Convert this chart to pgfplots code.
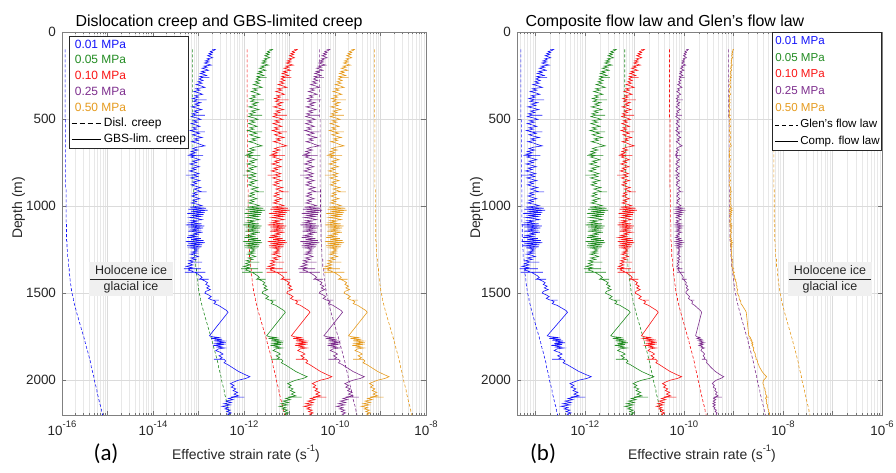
\documentclass[border=0pt]{standalone}
\usepackage{pgfplots}
\pgfplotsset{compat=1.18}
\usepackage{pgfplotstable}
\usepackage{fontspec}
\setmainfont{Liberation Sans}
\newfontfamily\calibri{Carlito}
\definecolor{cblue}{RGB}{20,20,250}
\definecolor{cgreen}{RGB}{34,140,34}
\definecolor{cred}{RGB}{250,20,20}
\definecolor{cpurple}{RGB}{126,47,142}
\definecolor{corange}{RGB}{230,155,30}
\definecolor{tickc}{RGB}{38,38,38}
\newcommand\pw[1]{10\raisebox{0.62em}{\fontsize{9.5}{10}\selectfont #1}}
\tikzset{dsh/.style={dash pattern=on 3bp off 2bp}}

% d = depth (m); g = log10 of GBS-limited strain rate at 0.01 MPa; t = log10 temperature factor of dislocation creep
\pgfplotstableread{
d g t
100 -12.70 0
100 -12.63 0
106 -12.66 0
112 -12.74 0
118 -12.69 0
124 -12.77 0
130 -12.71 0
136 -12.80 0
142 -12.74 0
148 -12.69 0
154 -12.81 0
160 -12.76 0
166 -12.85 0
172 -12.77 0
178 -12.87 0
184 -12.80 0
190 -12.72 0
196 -12.88 0
202 -12.81 0
208 -12.92 0
214 -12.84 0
220 -12.78 0
226 -12.93 0
232 -12.86 0
238 -12.96 0
244 -12.88 0
250 -12.82 0
256 -12.97 0
262 -12.90 0
262 -12.76 0
262 -12.92 0
270 -12.99 0
278 -12.90 0
286 -13.01 0
294 -12.92 0
302 -13.05 0
310 -12.94 0
318 -12.86 0
326 -13.06 0
334 -12.97 0
342 -13.10 0
350 -12.99 0
358 -12.91 0
366 -13.08 0
374 -13.00 0
382 -13.13 0
390 -13.01 0
390 -12.82 0
390 -13.03 0
398 -13.11 0
406 -12.95 0
414 -13.08 0
422 -12.99 0
430 -13.15 0
438 -13.03 0
446 -12.93 0
454 -13.10 0
462 -13.01 0
470 -13.14 0
478 -13.04 0
478 -12.86 0
478 -13.07 0
486 -13.16 0
494 -13.03 0
502 -12.95 0.01
510 -13.12 0.01
518 -13.02 0.01
526 -13.16 0.01
534 -13.06 0.01
542 -12.97 0.01
550 -13.13 0.01
558 -13.04 0.01
566 -13.18 0.01
574 -13.06 0.01
574 -12.86 0.01
574 -13.08 0.01
582 -12.98 0.01
590 -13.13 0.01
598 -13.04 0.01
606 -12.92 0.01
614 -13.09 0.01
622 -13.00 0.01
630 -13.15 0.01
638 -13.03 0.01
646 -12.96 0.01
654 -12.86 0.01
662 -13.04 0.01
670 -13.13 0.01
678 -13.01 0.01
686 -13.16 0.01
694 -13.06 0.01
702 -13.19 0.01
710 -13.06 0.01
710 -13.24 0.01
710 -12.90 0.01
710 -13.07 0.01
718 -13.17 0.01
726 -13.06 0.01
734 -12.97 0.01
742 -13.13 0.01
750 -13.04 0.01
758 -13.19 0.01
766 -13.07 0.01
774 -12.98 0.01
782 -13.15 0.01
790 -13.06 0.01
798 -13.20 0.01
806 -13.08 0.01
814 -12.99 0.01
822 -13.16 0.01
822 -13.28 0.01
822 -13.10 0.01
830 -13.01 0.01
838 -13.17 0.01
846 -13.07 0.01
854 -12.97 0.01
862 -13.13 0.01
870 -13.04 0.01
878 -13.16 0.01
886 -13.06 0.01
894 -12.95 0.01
902 -13.10 0.02
910 -13.01 0.02
918 -12.93 0.02
918 -12.82 0.02
918 -13.01 0.02
926 -13.12 0.02
934 -13.03 0.02
942 -13.15 0.02
950 -13.06 0.02
958 -12.97 0.02
966 -13.13 0.02
974 -13.04 0.02
982 -13.16 0.02
990 -13.01 0.02
998 -12.92 0.02
1006 -13.19 0.02
1012 -12.83 0.02
1018 -13.22 0.02
1024 -12.80 0.02
1030 -13.16 0.02
1036 -12.86 0.02
1042 -13.25 0.02
1048 -12.89 0.02
1054 -13.13 0.02
1060 -12.95 0.02
1066 -13.19 0.02
1072 -13.01 0.02
1078 -12.92 0.02
1084 -13.16 0.02
1090 -13.04 0.02
1096 -13.20 0.02
1102 -12.93 0.03
1108 -13.28 0.03
1114 -12.87 0.03
1120 -13.22 0.03
1126 -12.90 0.03
1132 -13.16 0.03
1138 -12.98 0.03
1144 -13.23 0.03
1150 -12.91 0.03
1156 -13.10 0.03
1162 -13.01 0.03
1168 -13.19 0.03
1174 -13.04 0.03
1180 -13.25 0.03
1186 -12.95 0.03
1192 -13.16 0.03
1198 -12.89 0.03
1204 -13.28 0.04
1210 -12.86 0.04
1216 -13.22 0.04
1222 -12.92 0.04
1228 -13.25 0.04
1234 -12.93 0.04
1240 -13.19 0.04
1246 -13.01 0.04
1252 -13.09 0.05
1258 -13.02 0.05
1264 -13.15 0.05
1270 -13.03 0.05
1276 -13.18 0.05
1282 -13.08 0.05
1290 -13.00 0.05
1298 -13.17 0.05
1306 -13.06 0.07
1314 -13.21 0.07
1322 -13.09 0.07
1322 -12.92 0.07
1322 -13.12 0.07
1330 -13.22 0.07
1338 -13.12 0.07
1346 -13.27 0.07
1354 -13.14 0.09
1360 -13.25 0.09
1360 -13.32 0.09
1360 -12.95 0.09
1360 -13.18 0.09
1368 -13.22 0.09
1374 -13.12 0.09
1380 -13.15 0.09
1380 -13.30 0.09
1380 -12.85 0.09
1380 -13.08 0.09
1390 -13.02 0.09
1400 -12.96 0.10
1410 -12.92 0.10
1420 -12.98 0.11
1420 -12.78 0.11
1420 -12.94 0.11
1430 -12.86 0.11
1440 -12.80 0.12
1450 -12.84 0.12
1460 -12.76 0.13
1470 -12.82 0.13
1480 -12.74 0.14
1490 -12.84 0.14
1500 -12.86 0.15
1510 -12.78 0.16
1520 -12.72 0.17
1530 -12.78 0.18
1540 -12.70 0.18
1540 -12.55 0.18
1540 -12.68 0.18
1550 -12.62 0.19
1560 -12.66 0.20
1570 -12.56 0.21
1580 -12.50 0.22
1590 -12.44 0.23
1600 -12.38 0.24
1610 -12.35 0.25
1745 -12.76 0.40
1750 -12.70 0.41
1755 -12.55 0.41
1760 -12.72 0.42
1765 -12.48 0.42
1770 -12.66 0.43
1775 -12.44 0.43
1780 -12.60 0.44
1785 -12.40 0.44
1790 -12.62 0.45
1795 -12.46 0.45
1800 -12.68 0.46
1805 -12.50 0.46
1810 -12.58 0.47
1815 -12.42 0.47
1820 -12.56 0.48
1830 -12.62 0.49
1840 -12.52 0.50
1850 -12.46 0.51
1860 -12.55 0.52
1870 -12.48 0.53
1880 -12.54 0.54
1880 -12.66 0.54
1880 -12.44 0.54
1890 -12.40 0.55
1900 -12.44 0.56
1910 -12.36 0.57
1920 -12.30 0.57
1930 -12.24 0.58
1940 -12.18 0.59
1950 -12.12 0.60
1960 -12.04 0.61
1970 -11.96 0.62
1980 -11.87 0.63
1990 -11.96 0.63
2000 -12.12 0.64
2010 -12.22 0.65
2020 -12.30 0.66
2030 -12.22 0.67
2040 -12.28 0.68
2050 -12.18 0.69
2060 -12.24 0.70
2070 -12.14 0.70
2080 -12.22 0.71
2090 -12.12 0.72
2097 -12.28 0.73
2097 -11.99 0.73
2097 -12.20 0.73
2105 -12.34 0.73
2112 -12.24 0.74
2120 -12.40 0.75
2128 -12.28 0.75
2135 -12.44 0.76
2142 -12.30 0.77
2150 -12.48 0.78
2158 -12.34 0.78
2165 -12.42 0.79
2172 -12.30 0.80
2180 -12.38 0.80
2188 -12.28 0.81
2195 -12.36 0.82
2200 -12.32 0.82
}\prof

\begin{document}
\begin{tikzpicture}
\useasboundingbox (0,0) rectangle (896bp,473bp);

% ---------------- panel (a) ----------------
\begin{axis}[at={(62bp,58bp)}, anchor=south west, width=364bp, height=383bp, scale only axis,
  xmode=log, y dir=reverse, ymin=0, ymax=2200,
  ytick={0,500,1000,1500,2000},
  grid=both,
  major grid style={draw=black!14, line width=0.45bp},
  minor grid style={draw=black!9, line width=0.45bp},
  axis line style={draw=black!50, line width=0.6bp},
  tick style={draw=black!55, line width=0.5bp},
  major tick length=4.5bp, minor tick length=2.5bp,
  tick align=inside, xtick pos=both, ytick pos=both,
  ticklabel style={font=\fontsize{13.5}{15}\selectfont, text=tickc},
  yticklabel style={/pgf/number format/1000 sep={}, /pgf/number format/assume math mode=true, xshift=-2.5bp},
  xticklabel style={yshift=-2bp},
  legend cell align=left,
  xmin=1e-16, xmax=1e-8,
  xtick={1e-16,1e-15,1e-14,1e-13,1e-12,1e-11,1e-10,1e-9,1e-8},
  xticklabels={\pw{-16},,\pw{-14},,\pw{-12},,\pw{-10},,\pw{-8}},
  minor xtick={2e-16,3e-16,4e-16,5e-16,6e-16,7e-16,8e-16,9e-16,
    2e-15,3e-15,4e-15,5e-15,6e-15,7e-15,8e-15,9e-15,
    2e-14,3e-14,4e-14,5e-14,6e-14,7e-14,8e-14,9e-14,
    2e-13,3e-13,4e-13,5e-13,6e-13,7e-13,8e-13,9e-13,
    2e-12,3e-12,4e-12,5e-12,6e-12,7e-12,8e-12,9e-12,
    2e-11,3e-11,4e-11,5e-11,6e-11,7e-11,8e-11,9e-11,
    2e-10,3e-10,4e-10,5e-10,6e-10,7e-10,8e-10,9e-10,
    2e-9,3e-9,4e-9,5e-9,6e-9,7e-9,8e-9,9e-9},
  legend image code/.code={\draw[#1] (0bp,0bp) -- (29bp,0bp);},
  legend style={at={(axis description cs:0.0192,0.9896)}, anchor=north west,
    draw=black!85, line width=0.6bp, fill=white, inner xsep=2bp, inner ysep=3bp,
    font=\fontsize{12}{14}\selectfont, row sep=3.7bp,
    nodes={inner sep=0bp, text height=9bp, text depth=3bp},
    /tikz/every odd column/.append style={column sep=3bp}},
]
\addplot[forget plot, line width=0.6bp, cblue,dsh]   table[x expr={10^(\thisrow{t}-15.93)}, y=d] {\prof};
\addplot[forget plot, line width=0.6bp, cgreen,dsh]  table[x expr={10^(\thisrow{t}-13.134)}, y=d] {\prof};
\addplot[forget plot, line width=0.6bp, cred,dsh]    table[x expr={10^(\thisrow{t}-11.93)}, y=d] {\prof};
\addplot[forget plot, line width=0.6bp, cpurple,dsh] table[x expr={10^(\thisrow{t}-10.338)}, y=d] {\prof};
\addplot[forget plot, line width=0.6bp, corange,dsh] table[x expr={10^(\thisrow{t}-9.134)}, y=d] {\prof};
\addplot[forget plot, line width=0.6bp, cblue]   table[x expr={10^(\thisrow{g})}, y=d] {\prof};
\addplot[forget plot, line width=0.6bp, cgreen]  table[x expr={10^(\thisrow{g}+1.258)}, y=d] {\prof};
\addplot[forget plot, line width=0.6bp, cred]    table[x expr={10^(\thisrow{g}+1.8)}, y=d] {\prof};
\addplot[forget plot, line width=0.6bp, cpurple] table[x expr={10^(\thisrow{g}+2.516)}, y=d] {\prof};
\addplot[forget plot, line width=0.6bp, corange] table[x expr={10^(\thisrow{g}+3.058)}, y=d] {\prof};
\addlegendimage{empty legend}\addlegendentry{\hspace*{-29bp}\textcolor{cblue}{0.01 MPa}}
\addlegendimage{empty legend}\addlegendentry{\hspace*{-29bp}\textcolor{cgreen}{0.05 MPa}}
\addlegendimage{empty legend}\addlegendentry{\hspace*{-29bp}\textcolor{cred}{0.10 MPa}}
\addlegendimage{empty legend}\addlegendentry{\hspace*{-29bp}\textcolor{cpurple}{0.25 MPa}}
\addlegendimage{empty legend}\addlegendentry{\hspace*{-29bp}\textcolor{corange}{0.50 MPa}}
\addlegendimage{black, line width=0.6bp, dash pattern=on 5bp off 3bp}\addlegendentry{Disl. creep}
\addlegendimage{black, line width=0.6bp}\addlegendentry{GBS-lim. creep}
\node[fill=black!6, inner sep=1bp, font=\fontsize{12.5}{16}\selectfont, text=tickc] at (axis cs:3.3e-15,1420)
  {\setlength{\tabcolsep}{5bp}\begin{tabular}{c}Holocene ice\\\hline glacial ice\end{tabular}};
\end{axis}

% ---------------- panel (b) ----------------
\begin{axis}[at={(517bp,58bp)}, anchor=south west, width=365bp, height=383bp, scale only axis,
  xmode=log, y dir=reverse, ymin=0, ymax=2200,
  ytick={0,500,1000,1500,2000},
  grid=both,
  major grid style={draw=black!14, line width=0.45bp},
  minor grid style={draw=black!9, line width=0.45bp},
  axis line style={draw=black!50, line width=0.6bp},
  tick style={draw=black!55, line width=0.5bp},
  major tick length=4.5bp, minor tick length=2.5bp,
  tick align=inside, xtick pos=both, ytick pos=both,
  ticklabel style={font=\fontsize{13.5}{15}\selectfont, text=tickc},
  yticklabel style={/pgf/number format/1000 sep={}, /pgf/number format/assume math mode=true, xshift=-2.5bp},
  xticklabel style={yshift=-2bp},
  legend cell align=left,
  xmin=4.27e-14, xmax=1e-6,
  xtick={1e-13,1e-12,1e-11,1e-10,1e-9,1e-8,1e-7,1e-6},
  xticklabels={,\pw{-12},,\pw{-10},,\pw{-8},,\pw{-6}},
  minor xtick={5e-14,6e-14,7e-14,8e-14,9e-14,
    2e-13,3e-13,4e-13,5e-13,6e-13,7e-13,8e-13,9e-13,
    2e-12,3e-12,4e-12,5e-12,6e-12,7e-12,8e-12,9e-12,
    2e-11,3e-11,4e-11,5e-11,6e-11,7e-11,8e-11,9e-11,
    2e-10,3e-10,4e-10,5e-10,6e-10,7e-10,8e-10,9e-10,
    2e-9,3e-9,4e-9,5e-9,6e-9,7e-9,8e-9,9e-9,
    2e-8,3e-8,4e-8,5e-8,6e-8,7e-8,8e-8,9e-8,
    2e-7,3e-7,4e-7,5e-7,6e-7,7e-7,8e-7,9e-7},
  legend image code/.code={\draw[#1] (0bp,0bp) -- (23bp,0bp);},
  legend style={at={(axis description cs:1,1)}, anchor=north east,
    draw=black!85, line width=0.6bp, fill=white, inner xsep=2bp, inner ysep=3bp,
    font=\fontsize{11.6}{14}\selectfont, row sep=4.7bp,
    nodes={inner sep=0bp, text height=9bp, text depth=3bp},
    /tikz/every odd column/.append style={column sep=2bp}},
]
\addplot[forget plot, line width=0.6bp, cblue,dsh]   table[x expr={10^(0.9*\thisrow{t}-13.29)}, y=d] {\prof};
\addplot[forget plot, line width=0.6bp, cgreen,dsh]  table[x expr={10^(0.9*\thisrow{t}-11.193)}, y=d] {\prof};
\addplot[forget plot, line width=0.6bp, cred,dsh]    table[x expr={10^(0.9*\thisrow{t}-10.29)}, y=d] {\prof};
\addplot[forget plot, line width=0.6bp, cpurple,dsh] table[x expr={10^(0.9*\thisrow{t}-9.096)}, y=d] {\prof};
\addplot[forget plot, line width=0.6bp, corange,dsh] table[x expr={10^(0.9*\thisrow{t}-8.193)}, y=d] {\prof};
\addplot[forget plot, line width=0.6bp, cblue]   table[x expr={10^(\thisrow{g})+10^(\thisrow{t}-15.93)}, y=d] {\prof};
\addplot[forget plot, line width=0.6bp, cgreen]  table[x expr={10^(\thisrow{g}+1.258)+10^(\thisrow{t}-13.134)}, y=d] {\prof};
\addplot[forget plot, line width=0.6bp, cred]    table[x expr={10^(\thisrow{g}+1.8)+10^(\thisrow{t}-11.93)}, y=d] {\prof};
\addplot[forget plot, line width=0.6bp, cpurple] table[x expr={10^(\thisrow{g}+2.516)+10^(\thisrow{t}-10.338)}, y=d] {\prof};
\addplot[forget plot, line width=0.6bp, corange] table[x expr={10^(\thisrow{g}+3.058)+10^(\thisrow{t}-9.134)}, y=d] {\prof};
\addlegendimage{empty legend}\addlegendentry{\hspace*{-25bp}\textcolor{cblue}{0.01 MPa}}
\addlegendimage{empty legend}\addlegendentry{\hspace*{-25bp}\textcolor{cgreen}{0.05 MPa}}
\addlegendimage{empty legend}\addlegendentry{\hspace*{-25bp}\textcolor{cred}{0.10 MPa}}
\addlegendimage{empty legend}\addlegendentry{\hspace*{-25bp}\textcolor{cpurple}{0.25 MPa}}
\addlegendimage{empty legend}\addlegendentry{\hspace*{-25bp}\textcolor{corange}{0.50 MPa}}
\addlegendimage{black, line width=0.6bp, dash pattern=on 4bp off 3bp}\addlegendentry{Glen's flow law}
\addlegendimage{black, line width=0.6bp}\addlegendentry{Comp. flow law}
\node[fill=black!6, inner sep=1bp, font=\fontsize{12.5}{16}\selectfont, text=tickc] at (axis cs:8.9e-8,1420)
  {\setlength{\tabcolsep}{5bp}\begin{tabular}{c}Holocene ice\\\hline glacial ice\end{tabular}};
\end{axis}

% titles and labels
\node[anchor=base west, font=\fontsize{16}{18}\selectfont] at (72bp,446bp) {Dislocation creep and GBS-limited creep};
\node[anchor=base west, font=\fontsize{16}{18}\selectfont] at (522bp,446bp) {Composite flow law and Glen's flow law};
\node[anchor=base, font=\fontsize{14}{16}\selectfont, text=tickc] at (246bp,14bp) {Effective strain rate (s\raisebox{0.55em}{\fontsize{9.5}{10}\selectfont -1})};
\node[anchor=base, font=\fontsize{14}{16}\selectfont, text=tickc] at (702bp,14bp) {Effective strain rate (s\raisebox{0.55em}{\fontsize{9.5}{10}\selectfont -1})};
\node[anchor=base, rotate=90, font=\fontsize{14}{16}\selectfont, text=tickc] at (22bp,265bp) {Depth (m)};
\node[anchor=base, rotate=90, font=\fontsize{14}{16}\selectfont, text=tickc] at (480bp,265bp) {Depth (m)};
\node[anchor=base, font=\calibri\fontsize{23}{25}\selectfont] at (106bp,13bp) {(a)};
\node[anchor=base, font=\calibri\fontsize{23}{25}\selectfont] at (543bp,13bp) {(b)};
\end{tikzpicture}
\end{document}
